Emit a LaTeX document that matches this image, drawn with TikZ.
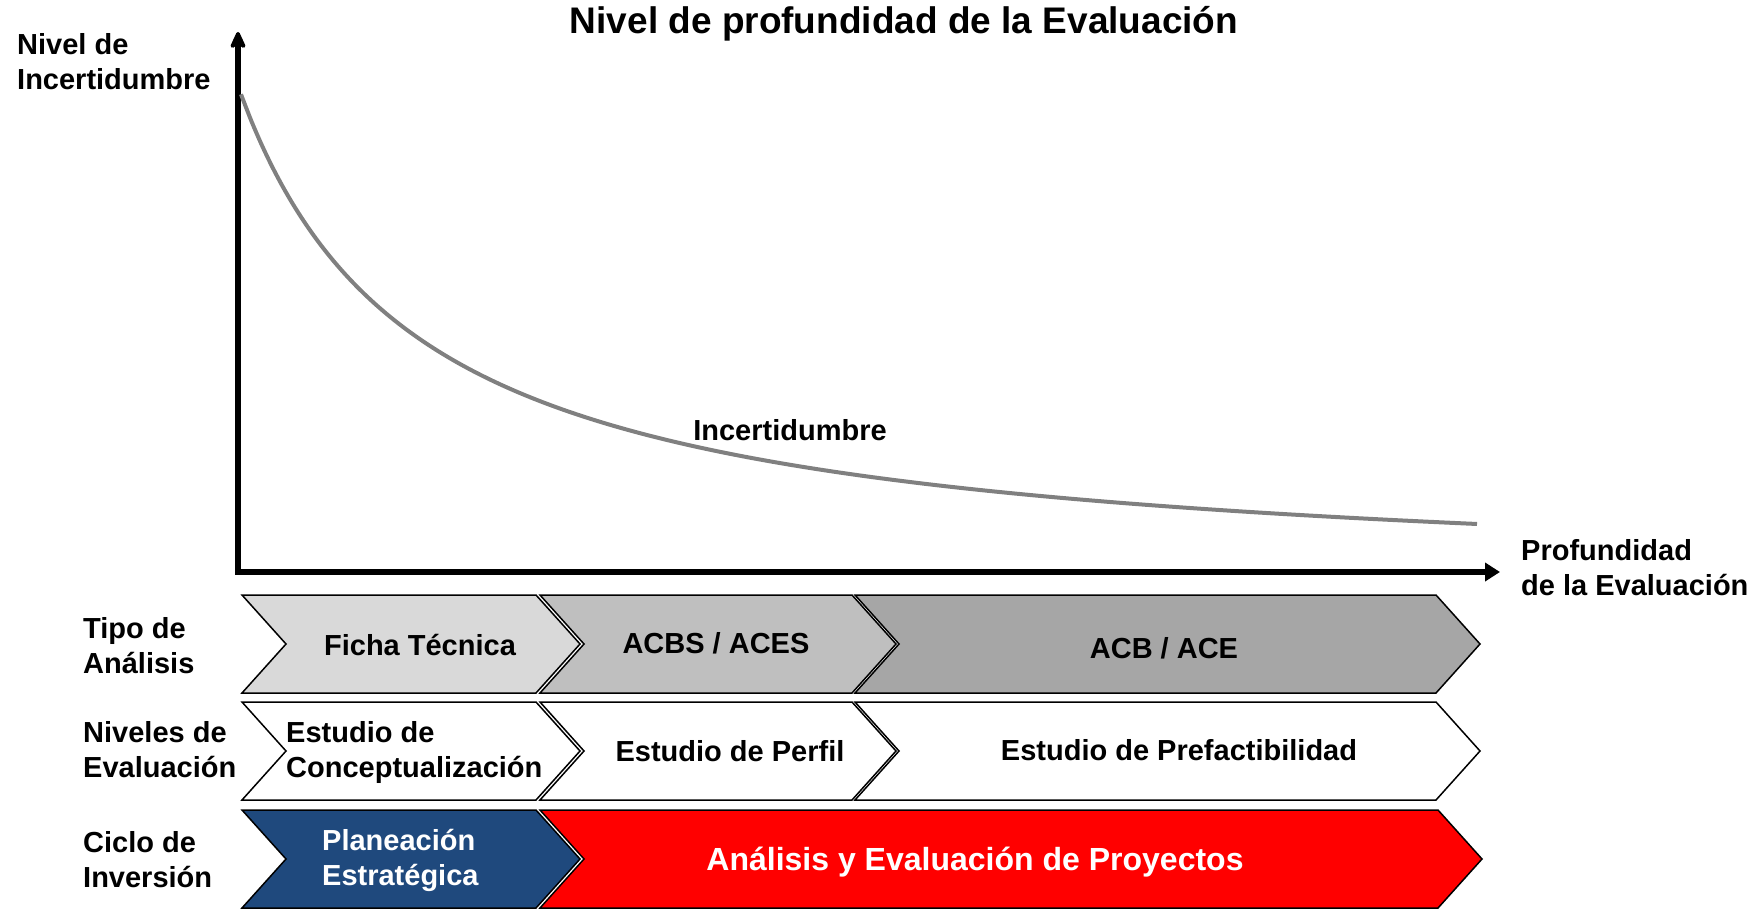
\documentclass[tikz,border=0pt]{standalone}
\usepackage{fontspec}
\setmainfont{Liberation Sans}
\usetikzlibrary{arrows.meta}
\definecolor{fichagray}{HTML}{D9D9D9}
\definecolor{acbsgray}{HTML}{BFBFBF}
\definecolor{acbgray}{HTML}{A6A6A6}
\definecolor{planblue}{HTML}{1F497D}
\definecolor{evalred}{HTML}{FF0000}
\begin{document}
\begin{tikzpicture}
[x=1pt,y=-1pt,
 textdecorate/.style={font=\fontsize{29}{35}\selectfont\bfseries,align=left,inner sep=0pt},
 chevdecorate/.style={draw=black,line width=1.5pt,line join=miter},
 axisdecorate/.style={line width=6pt,line join=miter},
 curvedecorate/.style={gray,line width=4pt}]
\useasboundingbox (0,0) rectangle (1758,915);
%% axes
\coordinate (ytop) at (238,32);
\coordinate (origin) at (238,572);
\coordinate (xend) at (1500,572);
\draw[axisdecorate,{Stealth[length=22pt,width=20pt,round]}-{Triangle[length=15pt,width=18pt]}]
  (ytop) -- (origin) -- (xend);
%% curve
\draw[curvedecorate] plot[domain=3:1239,samples=120,smooth]
  ({238+\x},{586.9-891.1/(0.01*\x+1.779)});
%% chevrons
\foreach \chevname/\L/\R/\T/\colour in {
  ficha/242/536/595/fichagray, acbs/540/852/595/acbsgray, acb/855/1436/595/acbgray,
  concep/242/536/702/white, perfil/540/852/702/white, prefact/855/1436/702/white,
  plan/242/536/810/planblue, eval/540/1438/810/evalred}
{
  \filldraw[chevdecorate,fill=\colour] (\L,\T) -- (\R,\T) -- ({\R+44},{\T+49})
    -- (\R,{\T+98}) -- (\L,{\T+98}) -- ({\L+44},{\T+49}) -- cycle;
}
%% labels (base = last line)
\node (title) at (904,34) [anchor=base,font=\fontsize{37}{40}\selectfont\bfseries,inner sep=0pt]
  {Nivel de profundidad de la Evaluación};
\node (ylabel) at (17,90) [textdecorate,anchor=base west] {Nivel de\\Incertidumbre};
\node (xlabel) at (1521,595) [textdecorate,anchor=base west] {Profundidad\\de la Evaluación};
\node (incert) at (790,440) [textdecorate,anchor=base] {Incertidumbre};
\foreach \nodename/\y/\txt in {tipo/673/{Tipo de\\Análisis},
  niveles/777/{Niveles de\\Evaluación}, ciclo/887/{Ciclo de\\Inversión}}
{
  \node (\nodename) at (83,\y) [textdecorate,anchor=base west] {\txt};
}
\node (fichatxt) at (420,655) [textdecorate,anchor=base] {Ficha Técnica};
\node (acbstxt) at (716,653) [textdecorate,anchor=base] {ACBS / ACES};
\node (acbtxt) at (1164,658) [textdecorate,anchor=base] {ACB / ACE};
\node (conceptxt) at (286,777) [textdecorate,anchor=base west] {Estudio de\\Conceptualización};
\node (perfiltxt) at (730,761) [textdecorate,anchor=base] {Estudio de Perfil};
\node (prefacttxt) at (1179,760) [textdecorate,anchor=base] {Estudio de Prefactibilidad};
\node (plantxt) at (322,885) [textdecorate,anchor=base west,text=white] {Planeación\\Estratégica};
\node (evaltxt) at (975,870) [textdecorate,anchor=base,text=white,font=\fontsize{32}{35}\selectfont\bfseries]
  {Análisis y Evaluación de Proyectos};
\end{tikzpicture}
\end{document}
